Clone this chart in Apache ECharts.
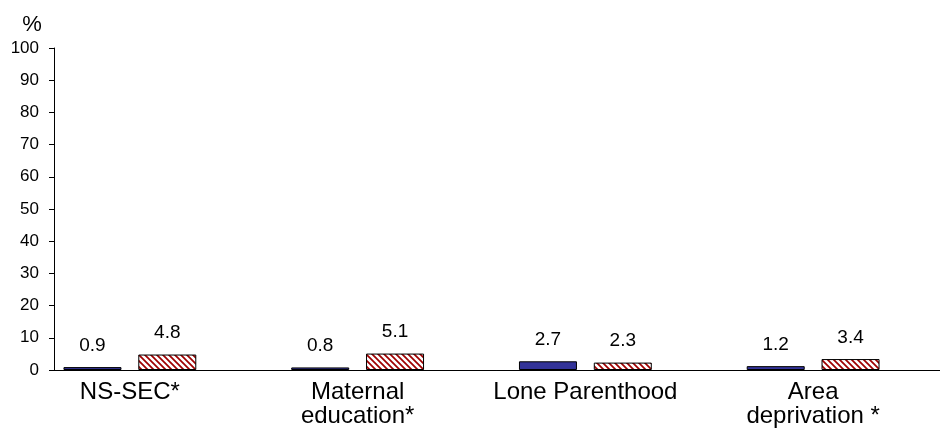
<!DOCTYPE html>
<html>
<head>
<meta charset="utf-8">
<script src="https://cdn.jsdelivr.net/npm/echarts@6/dist/echarts.min.js"></script>
<style>
  html, body { margin: 0; padding: 0; background: #fff; }
  #chart { width: 940px; height: 434px; }
</style>
</head>
<body>
<div id="chart"></div>
<script>
// Categories and values
const categories = ['NS-SEC*', 'Maternal\neducation*', 'Lone Parenthood', 'Area\ndeprivation *'];
const seriesA = [0.9, 0.8, 2.7, 1.2];
const seriesB = [4.8, 5.1, 2.3, 3.4];
const yTicks = [0, 10, 20, 30, 40, 50, 60, 70, 80, 90, 100];

const FONT = '"Liberation Sans", Arial, Helvetica, sans-serif';

// Diagonal red hatch fill for the second series
function hatchPattern() {
  const c = document.createElement('canvas');
  const s = 6;
  c.width = s; c.height = s;
  const g = c.getContext('2d');
  g.fillStyle = '#ffffff';
  g.fillRect(0, 0, s, s);
  g.strokeStyle = '#a00000';
  g.lineWidth = 1.7;
  g.beginPath();
  g.moveTo(-1, -1); g.lineTo(s + 1, s + 1);
  g.moveTo(-1, s - 1); g.lineTo(1, s + 1);
  g.moveTo(s - 1, -1); g.lineTo(s + 1, 1);
  g.stroke();
  return c;
}

const chart = echarts.init(document.getElementById('chart'), null, { renderer: 'canvas' });

const labelStyle = {
  show: true,
  position: 'top',
  distance: 12,
  color: '#000',
  fontFamily: FONT,
  fontSize: 19
};

chart.setOption({
  animation: false,
  backgroundColor: '#ffffff',
  textStyle: { fontFamily: FONT },
  grid: [
    // frame: value axis and baseline
    { left: 54, right: 0, top: 48, bottom: 64 },
    // bars and category labels
    { left: 16, right: 13, top: 48, bottom: 64 }
  ],
  xAxis: [
    {
      gridIndex: 0,
      type: 'category',
      data: categories,
      axisLine: { show: true, lineStyle: { color: '#000', width: 1 } },
      axisTick: { show: false },
      axisLabel: { show: false },
      splitLine: { show: false }
    },
    {
      gridIndex: 1,
      type: 'category',
      data: categories,
      axisLine: { show: false },
      axisTick: { show: false },
      axisLabel: {
        color: '#000',
        fontFamily: FONT,
        fontSize: 24,
        lineHeight: 24,
        margin: 10,
        interval: 0
      },
      splitLine: { show: false }
    }
  ],
  yAxis: [
    {
      gridIndex: 0,
      type: 'value',
      min: yTicks[0],
      max: yTicks[yTicks.length - 1],
      interval: yTicks[1] - yTicks[0],
      name: '%',
      nameLocation: 'end',
      nameGap: 12,
      nameTextStyle: {
        color: '#000',
        fontFamily: FONT,
        fontSize: 22,
        align: 'center',
        padding: [0, 44, 0, 0]
      },
      axisLine: { show: true, lineStyle: { color: '#000', width: 1 } },
      axisTick: { show: true, inside: false, length: 5, lineStyle: { color: '#000' } },
      axisLabel: {
        color: '#000',
        fontFamily: FONT,
        fontSize: 17,
        margin: 15
      },
      splitLine: { show: false }
    },
    {
      gridIndex: 1,
      type: 'value',
      min: yTicks[0],
      max: yTicks[yTicks.length - 1],
      interval: yTicks[1] - yTicks[0],
      show: false
    }
  ],
  series: [
    {
      name: 'Series 1',
      type: 'bar',
      xAxisIndex: 1,
      yAxisIndex: 1,
      data: seriesA,
      barWidth: 58,
      barGap: '29%',
      itemStyle: { color: '#333399', borderColor: '#000', borderWidth: 1 },
      label: labelStyle
    },
    {
      name: 'Series 2',
      type: 'bar',
      xAxisIndex: 1,
      yAxisIndex: 1,
      data: seriesB,
      barWidth: 58,
      barGap: '29%',
      itemStyle: {
        color: { image: hatchPattern(), repeat: 'repeat' },
        borderColor: '#000',
        borderWidth: 1
      },
      label: labelStyle
    }
  ]
});
</script>
</body>
</html>
